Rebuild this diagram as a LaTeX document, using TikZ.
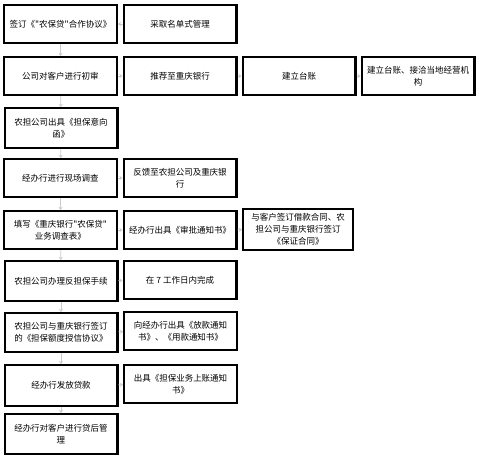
\documentclass[tikz,border=0pt]{standalone}
\usepackage{fontspec}
\newfontfamily\cjk{Noto Sans CJK SC}
\usetikzlibrary{arrows.meta}
\tikzstyle{box}=[draw,line width=2.4pt,minimum width=112.6pt,minimum height=37.6pt,align=center,inner sep=1pt,font=\cjk\fontsize{8.5}{12}\selectfont]
\tikzstyle{flow}=[-{Stealth[length=3pt,width=4pt]},draw=black!20,line width=0.6pt]

\begin{document}
\begin{tikzpicture}[x=1pt,y=-1pt]
					\useasboundingbox (0,0) rectangle (480,459);
					% main column
					\node [box] (sign) at (60.5,24) {签订《"农保贷"合作协议》};
					\node [box] (audit) at (60.5,76) {公司对客户进行初审};
					\node [box,minimum height=39.6pt] (intent) at (61,128) {农担公司出具《担保意向\\函》};
					\node [box] (survey) at (60.5,178) {经办行进行现场调查};
					\node [box] (form) at (60.5,230) {填写《重庆银行"农保贷"\\业务调查表》};
					\node [box,minimum height=39.6pt] (counter) at (61,281) {农担公司办理反担保手续};
					\node [box,minimum height=38.6pt] (quota) at (61,332.5) {农担公司与重庆银行签订\\的《担保额度授信协议》};
					\node [box,minimum height=40.6pt] (loan) at (61,385.5) {经办行发放贷款};
					\node [box,minimum height=39.6pt] (manage) at (61,434) {经办行对客户进行贷后管\\理};
					% side boxes
					\node [box] (list) at (180,24) {采取名单式管理};
					\node [box] (recommend) at (180,76) {推荐至重庆银行};
					\node [box] (ledger) at (299,76) {建立台账};
					\node [box] (contact) at (418,76) {建立台账、接洽当地经营机\\构};
					\node [box] (feedback) at (180,178) {反馈至农担公司及重庆银\\行};
					\node [box] (approve) at (180,230) {经办行出具《审批通知书》};
					\node [box,minimum width=109.6pt,minimum height=40.6pt] (contract) at (298,229.5) {与客户签订借款合同、农\\担公司与重庆银行签订\\《保证合同》};
					\node [box] (days) at (180,280) {在 7 工作日内完成};
					\node [box] (notice) at (180.5,331) {向经办行出具《放款通知\\书》、《用款通知书》};
					\node [box] (account) at (180.5,384) {出具《担保业务上账通知\\书》};
					% connectors
					\draw [flow] (sign) -- (audit);
					\draw [flow] (audit) -- (intent);
					\draw [flow] (intent) -- (survey);
					\draw [flow] (survey) -- (form);
					\draw [flow] (form) -- (counter);
					\draw [flow] (counter) -- (quota);
					\draw [flow] (quota) -- (loan);
					\draw [flow] (loan) -- (manage);
					\draw [flow] (list) -- (sign);
					\draw [flow] (audit) -- (recommend);
					\draw [flow] (recommend) -- (ledger);
					\draw [flow] (ledger) -- (contact);
					\draw [flow] (survey) -- (feedback);
					\draw [flow] (form) -- (approve);
					\draw [flow] (approve) -- (contract);
					\draw [flow] (counter) -- (days);
					\draw [flow] (quota) -- (notice);
					\draw [flow] (loan) -- (account);
\end{tikzpicture}
\end{document}
